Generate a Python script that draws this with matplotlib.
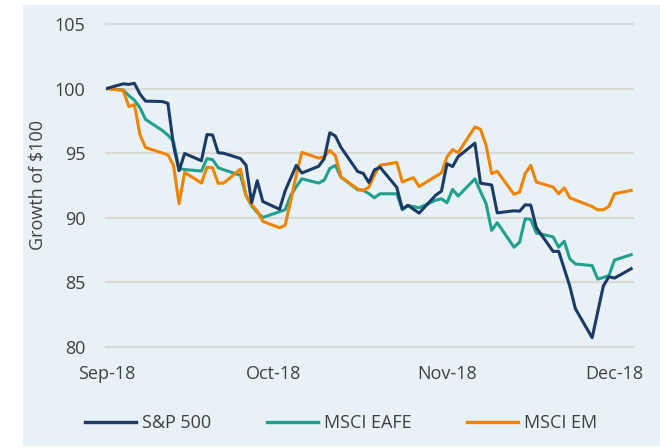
import matplotlib
matplotlib.use('Agg')
import matplotlib.pyplot as plt
import matplotlib.dates as mdates
from matplotlib.patches import Rectangle
from matplotlib.lines import Line2D
import pandas as pd

# weekdays of Q4 2018 (index values are published every weekday)
weekdays = pd.bdate_range('2018-09-28', '2018-12-31')
us_closed = pd.to_datetime(['2018-11-22', '2018-12-05', '2018-12-25'])
sp_days = weekdays.difference(us_closed)

sp500 = [100.0,
         100.36, 100.32, 100.40, 99.57, 99.02,
         98.99, 98.85, 95.60, 93.63, 94.96,
         94.40, 96.43, 96.40, 95.02, 94.98,
         94.57, 94.05, 91.15, 92.85, 91.24,
         90.64, 92.06, 93.06,
         94.04, 93.45,
         93.97, 94.56, 96.57, 96.32, 95.44,
         93.56, 93.42, 92.71, 93.69, 93.90,
         92.34, 90.66, 90.94, 90.34,
         91.74, 92.04, 94.16, 93.95, 94.72,
         95.76, 92.66, 92.52, 90.36,
         90.52, 90.49, 90.98, 90.96, 89.22,
         87.37, 87.38, 86.03, 84.67, 82.93,
         80.68, 84.68, 85.41, 85.30, 86.03]

eafe = [100.0,
        99.88, 99.45, 99.10, 98.50, 97.60,
        96.75, 96.38, 95.90, 93.79, 93.72,
        93.60, 94.56, 94.49, 93.86, 93.70,
        93.27, 91.70, 90.90, 90.40, 90.00,
        90.45, 90.60, 91.70,
        92.40, 93.00,
        92.67, 92.90, 93.80, 94.04, 93.13,
        92.15, 92.10, 91.85, 91.53, 91.84,
        91.84, 90.60, 90.93, 90.85, 90.75,
        91.35, 91.45, 91.14, 92.18, 91.66,
        93.00, 92.00, 91.07, 89.00, 89.60,
        87.70, 88.08, 89.90, 89.85, 88.80,
        88.50, 87.70, 88.16, 86.80, 86.40,
        86.27, 85.23, 85.35, 85.49, 86.70,
        87.12]

em = [100.0,
      99.85, 98.60, 98.75, 96.40, 95.42,
      95.00, 94.85, 94.05, 91.07, 93.50,
      92.67, 93.90, 93.86, 92.65, 92.67,
      93.75, 91.70, 91.00, 90.50, 89.70,
      89.20, 89.40, 91.30,
      93.30, 95.05,
      94.60, 94.70, 95.20, 94.80, 93.15,
      92.20, 92.10, 92.35, 93.30, 94.05,
      94.27, 92.75, 92.93, 93.09, 92.40,
      93.20, 93.45, 94.70, 95.26, 95.03,
      97.02, 96.84, 95.60, 93.40, 93.58,
      91.80, 91.97, 93.40, 94.04, 92.75,
      92.36, 91.84, 92.30, 91.53, 91.35,
      90.85, 90.60, 90.60, 90.86, 91.84,
      92.10]

series_names = ['S&P 500', 'MSCI EAFE', 'MSCI EM']
series_colors = ['#1b3a66', '#22a08e', '#f08300']
tick_dates = pd.to_datetime(['2018-09-28', '2018-10-28', '2018-11-28', '2018-12-28'])
tick_labels = ['Sep-18', 'Oct-18', 'Nov-18', 'Dec-18']
y_ticks = [80, 85, 90, 95, 100, 105]

plt.rcParams['font.family'] = ['Open Sans', 'DejaVu Sans']
text_color = '#404040'
fsize = 13

W, H = 660, 448
fig = plt.figure(figsize=(W / 100, H / 100), dpi=100)
fig.patch.set_facecolor('white')
fig.patches.append(Rectangle((23 / W, 2 / H), 637 / W, 441 / H, transform=fig.transFigure,
                             facecolor='#e8f1f5', edgecolor='none', zorder=-10))

ax = fig.add_axes([106 / W, 1 - 346.5 / H, 527 / W, 322.5 / H])
ax.set_facecolor('none')

ax.plot(sp_days, sp500, color=series_colors[0], lw=2.2, zorder=3)
ax.plot(weekdays, eafe, color=series_colors[1], lw=2.2, zorder=2)
ax.plot(weekdays, em, color=series_colors[2], lw=2.2, zorder=2)

x0 = mdates.date2num(pd.Timestamp('2018-09-28'))
x1 = mdates.date2num(pd.Timestamp('2018-12-31'))
ax.set_xlim(x0 - 0.09, x1 + 0.32)
ax.set_ylim(80, 105)
ax.set_yticks(y_ticks)
ax.set_xticks(mdates.date2num(tick_dates))
ax.set_xticklabels(tick_labels)

ax.grid(axis='y', color='#d9d9d9', lw=1.6)
ax.set_axisbelow(True)
for gl in ax.get_ygridlines():
    gl.set_clip_on(False)
for s in ax.spines.values():
    s.set_visible(False)
ax.tick_params(axis='both', length=0, labelsize=fsize, labelcolor=text_color)
ax.tick_params(axis='y', pad=15)
ax.tick_params(axis='x', pad=13)

ax.set_ylabel('Growth of $100', fontsize=fsize, color=text_color)
ax.yaxis.set_label_coords(-0.112, 0.5)

handles = [Line2D([], [], color=c, lw=2.4) for c in series_colors]
fig.legend(handles, series_names, loc='center', bbox_to_anchor=(0.517, 1 - 423 / H),
           ncol=3, frameon=False, fontsize=fsize, labelcolor=text_color,
           handlelength=2.8, handletextpad=0.35, columnspacing=3.1)

fig.savefig('out.png', dpi=100)
